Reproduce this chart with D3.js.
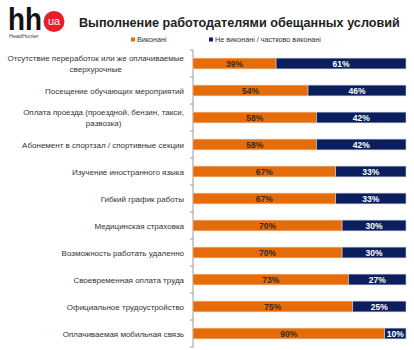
<!DOCTYPE html>
<html><head><meta charset="utf-8">
<script src="https://cdn.jsdelivr.net/npm/d3@7"></script>
<style>body{margin:0;background:#fff}svg{display:block}</style>
</head><body>
<script>
const categories = [
  "Отсутствие переработок или же оплачиваемые|сверхурочные",
  "Посещение обучающих мероприятий",
  "Оплата проезда (проездной, бензин, такси,|развозка)",
  "Абонемент в спортзал / спортивные секции",
  "Изучение иностранного языка",
  "Гибкий график работы",
  "Медицинская страховка",
  "Возможность работать удаленно",
  "Своевременная оплата труда",
  "Официальное трудоустройство",
  "Оплачиваемая мобильная связь"
];
const done = [39, 54, 58, 58, 67, 67, 70, 70, 73, 75, 90];
const notDone = [61, 46, 42, 42, 33, 33, 30, 30, 27, 25, 10];
const seriesNames = ["Виконані", "Не виконані / частково виконані"];
const colors = ["#E46C0A", "#0B1F5E"];
const title = "Выполнение работодателями обещанных условий";

const W = 414, H = 350;
const svg = d3.select("body").append("svg").attr("width", W).attr("height", H);
const font = "'Liberation Sans', Arial, sans-serif";

// Logo
const logo = svg.append("g");
logo.append("text").attr("x", 8).attr("y", 30).attr("font-family", font).attr("font-weight", "bold")
  .attr("font-size", 32).attr("fill", "#111").attr("textLength", 34).attr("lengthAdjust", "spacingAndGlyphs").text("hh");
logo.append("circle").attr("cx", 54).attr("cy", 21.5).attr("r", 10.5).attr("fill", "#E5202A");
logo.append("text").attr("x", 54).attr("y", 25).attr("text-anchor", "middle").attr("font-family", font)
  .attr("font-size", 11).attr("fill", "#fff").text("ua");
logo.append("text").attr("x", 9).attr("y", 38).attr("font-family", font).attr("font-size", 5.5)
  .attr("fill", "#444").text("HeadHunter");

// Title (fit to the reference width)
const tt = svg.append("text").attr("x", 79).attr("y", 27).attr("font-family", font).attr("font-weight", "bold")
  .attr("font-size", 13).attr("fill", "#222").text(title);
const tw = tt.node().getComputedTextLength();
tt.attr("font-size", 13 * 321 / tw);

// Legend
const legendX = [131, 209];
seriesNames.forEach((n, i) => {
  svg.append("rect").attr("x", legendX[i]).attr("y", 37.5).attr("width", 4).attr("height", 4).attr("fill", colors[i]);
  svg.append("text").attr("x", legendX[i] + 6).attr("y", 42).attr("font-family", font).attr("font-size", 7.2)
    .attr("fill", "#333").text(n);
});

// Scales
const x = d3.scaleLinear().domain([0, 100]).range([193, 406]);
const y = d3.scaleBand().domain(categories).range([50, 347]).paddingInner(0.6).paddingOuter(0.3);
const step = y.step(), bw = y.bandwidth();

// Axis line + ticks
svg.append("line").attr("x1", x(0)).attr("x2", x(0)).attr("y1", 50).attr("y2", 347)
  .attr("stroke", "#9a9a9a").attr("stroke-width", 1);
const bounds = categories.map(c => y(c) - (step - bw) / 2).concat([y(categories[categories.length - 1]) + bw + (step - bw) / 2]);
svg.selectAll(".tick").data(bounds).enter().append("line")
  .attr("x1", x(0) - 3).attr("x2", x(0)).attr("y1", d => d).attr("y2", d => d)
  .attr("stroke", "#9a9a9a").attr("stroke-width", 1);

// Bars
const rows = categories.map((c, i) => ({c, a: done[i], b: notDone[i]}));
const g = svg.selectAll(".row").data(rows).enter().append("g");
g.append("rect").attr("x", x(0)).attr("y", d => y(d.c)).attr("width", d => x(d.a) - x(0)).attr("height", bw)
  .attr("fill", colors[0]).attr("stroke", "#f3c7a3").attr("stroke-width", 0.6);
g.append("rect").attr("x", d => x(d.a)).attr("y", d => y(d.c)).attr("width", d => x(d.a + d.b) - x(d.a)).attr("height", bw)
  .attr("fill", colors[1]).attr("stroke", "#c9cfe0").attr("stroke-width", 0.6);
g.append("text").attr("x", d => (x(0) + x(d.a)) / 2).attr("y", d => y(d.c) + bw / 2 + 3)
  .attr("text-anchor", "middle").attr("font-family", font).attr("font-weight", "bold").attr("font-size", 8.5)
  .attr("fill", "#3a2a1a").text(d => d.a + "%");
g.append("text").attr("x", d => (x(d.a) + x(d.a + d.b)) / 2).attr("y", d => y(d.c) + bw / 2 + 3)
  .attr("text-anchor", "middle").attr("font-family", font).attr("font-weight", "bold").attr("font-size", 8.5)
  .attr("fill", "#fff").text(d => d.b + "%");

// Category labels
const labelRight = 184;
rows.forEach(d => {
  const lines = d.c.split("|");
  const cy = y(d.c) + bw / 2;
  const t = svg.append("text").attr("font-family", font).attr("font-size", 8).attr("fill", "#333");
  if (lines.length === 1) {
    t.attr("x", labelRight).attr("y", cy + 3).attr("text-anchor", "end").text(lines[0]);
  } else {
    const tmp = svg.append("text").attr("font-family", font).attr("font-size", 8).text(lines[0]);
    const w = tmp.node().getComputedTextLength(); tmp.remove();
    const center = labelRight - w / 2;
    lines.forEach((ln, k) => {
      t.append("tspan").attr("x", center).attr("text-anchor", "middle")
        .attr("y", cy + 3 + (k - (lines.length - 1) / 2) * 11).text(ln);
    });
  }
});
</script>
</body></html>
